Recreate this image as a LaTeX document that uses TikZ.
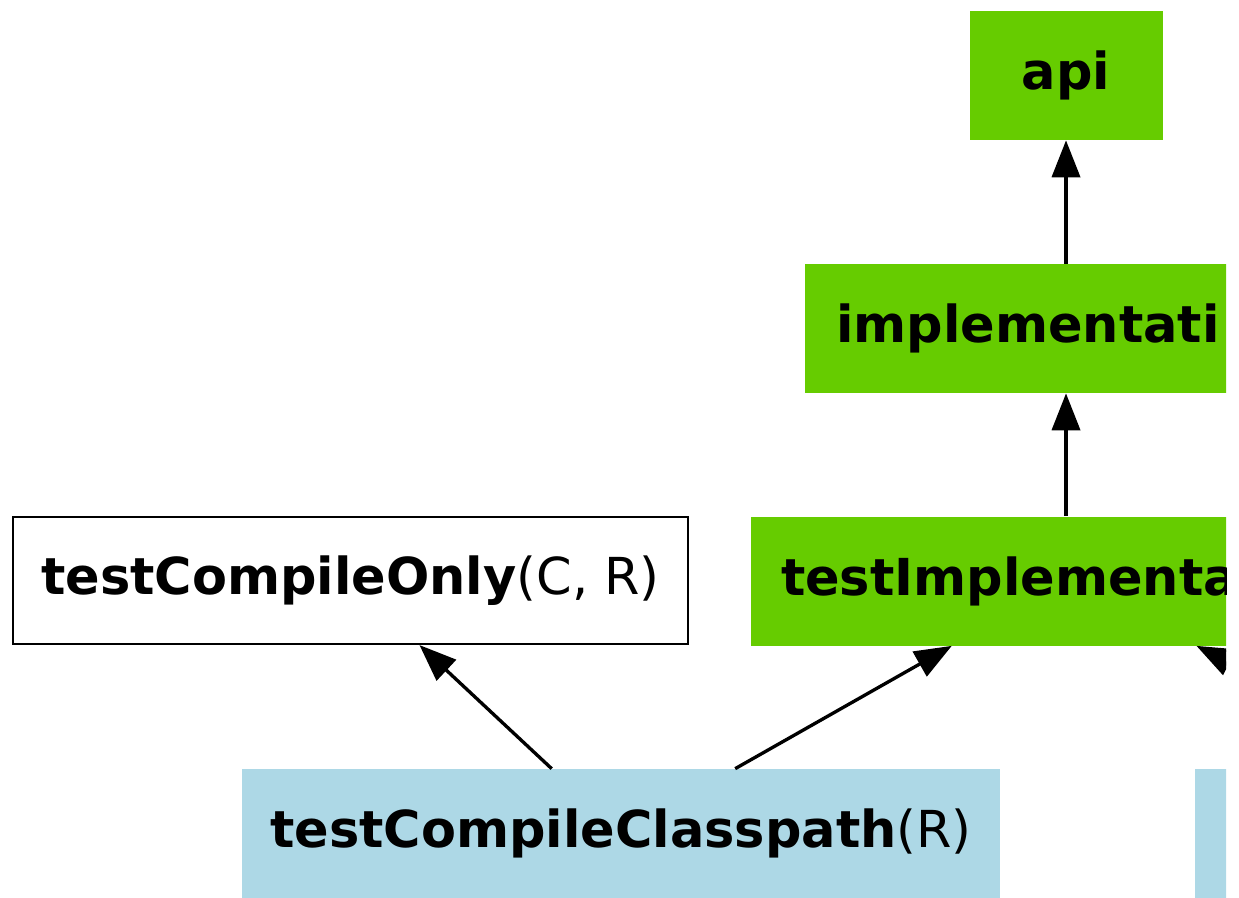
\documentclass[tikz,border=0pt]{standalone}
\usepackage{fontspec}
\setmainfont{DejaVu Sans}
\usepackage{tikz}
\usetikzlibrary{arrows.meta}
\definecolor{declgreen}{RGB}{102,204,0}
\definecolor{resblue}{RGB}{173,216,230}
\tikzset{every picture/.style={every node/.style={rectangle,inner sep=0pt,font=\fontsize{29}{34}\selectfont}}}
\tikzset{
  decl/.style={fill=declgreen,minimum height=2.58cm},
  resolv/.style={fill=resblue,minimum height=2.58cm,minimum width=15.16cm},
  plain/.style={draw=black,line width=1.2pt,fill=white,minimum height=2.54cm,minimum width=13.5cm},
  dep/.style={line width=1.9pt,-{Triangle[length=21pt,width=16pt]}}
}

\begin{document}
\begin{tikzpicture}

      \useasboundingbox (0,0) rectangle (24.78,-17.94);
      \clip (0,0) rectangle (24.52,-17.94);

      \node[decl,minimum width=3.86cm] (api) at (21.32, -1.51){\textbf{api}};
      \node[decl,text width=9.2cm,inner xsep=0.62cm,align=left] (impl) at (21.32, -6.57){\textbf{implementati}};
      \node[decl,text width=11.4cm,inner xsep=0.6cm,align=left] (tI) at (21.32, -11.62){\textbf{testImplementa}};
      \node[plain] (tco) at (7.01, -11.61){\textbf{testCompileOnly}(C, R)};
      \node[resolv] (tcc) at (12.42, -16.67){\textbf{testCompileClasspath}(R)};
      \node[resolv] (trc) at (31.48, -16.67){};

      \draw[dep](impl)--(api);
      \draw[dep](tI)--(impl);
      \draw[dep](tcc)--(tco);
      \draw[dep](tcc)--(tI);
      \draw[dep](trc)--(tI);
    \end{tikzpicture}
\end{document}
